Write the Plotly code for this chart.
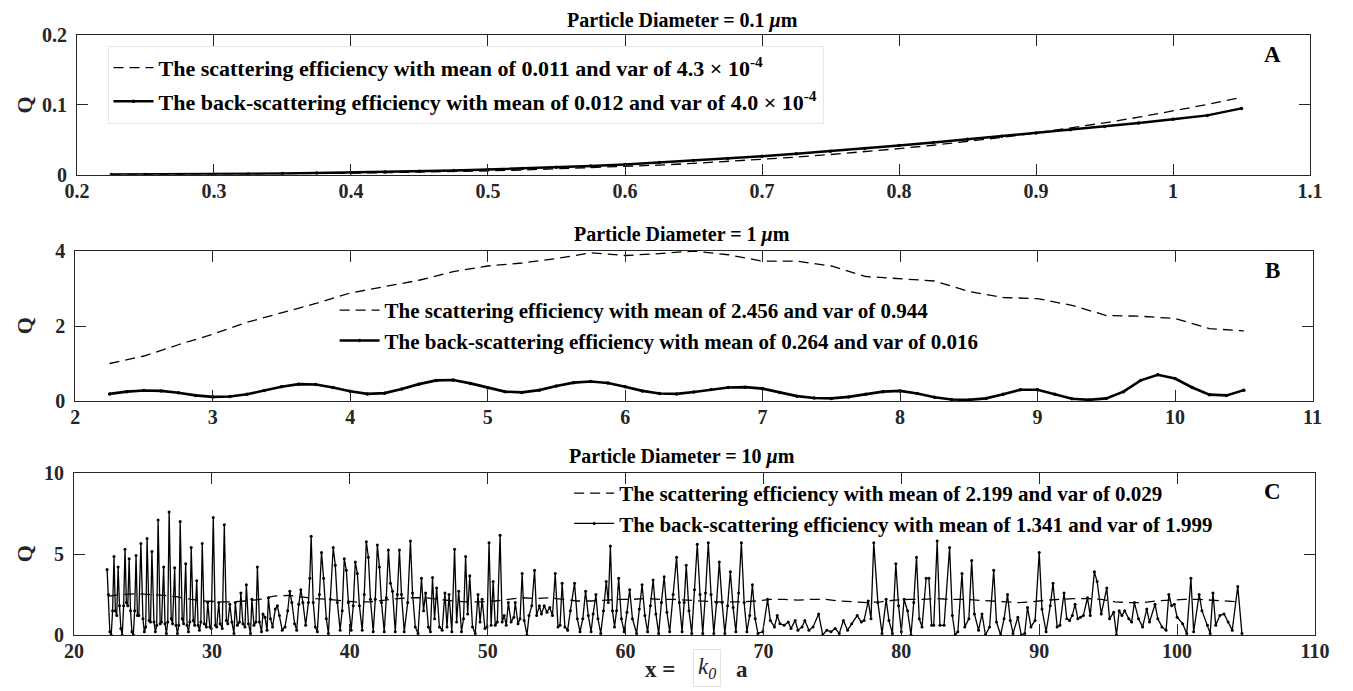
import numpy as np
import plotly.graph_objects as go
from plotly.subplots import make_subplots

# ---------------- Panel A (0.1 um) ----------------
a_x = [0.225, 0.25, 0.275, 0.3, 0.325, 0.35, 0.375, 0.4, 0.425, 0.45, 0.475, 0.5, 0.525, 0.55,
       0.575, 0.6, 0.625, 0.65, 0.675, 0.7, 0.725, 0.75, 0.775, 0.8, 0.825, 0.85, 0.875, 0.9,
       0.925, 0.95, 0.975, 1.0, 1.025, 1.05]
a_sca = [0.0002, 0.0004, 0.0005, 0.0007, 0.001, 0.0014, 0.0018, 0.0023, 0.003, 0.0037, 0.0046,
         0.0057, 0.0069, 0.0084, 0.010, 0.0118, 0.0139, 0.0163, 0.019, 0.022, 0.0253, 0.029,
         0.033, 0.0375, 0.0423, 0.0477, 0.0535, 0.0599, 0.0668, 0.0743, 0.0824, 0.0913, 0.1005, 0.111]
a_back = [0.0003, 0.0004, 0.0006, 0.0009, 0.0013, 0.0018, 0.0024, 0.0031, 0.004, 0.005, 0.0062,
          0.0075, 0.009, 0.0107, 0.0126, 0.0147, 0.0175, 0.0203, 0.0233, 0.0265, 0.030, 0.0337,
          0.0376, 0.0418, 0.0462, 0.0507, 0.0553, 0.0598, 0.0643, 0.0690, 0.0740, 0.0795, 0.0850,
          0.095]

# ---------------- Panel B (1 um) ----------------
b_x_sca = [2.25, 2.5, 2.75, 3.0, 3.25, 3.5, 3.75, 4.0, 4.25, 4.5, 4.75, 5.0, 5.25, 5.5, 5.75,
           6.0, 6.25, 6.5, 6.75, 7.0, 7.25, 7.5, 7.75, 8.0, 8.25, 8.5, 8.75, 9.0, 9.25, 9.5,
           9.75, 10.0, 10.25, 10.5]
b_sca = [1.0, 1.2, 1.5, 1.78, 2.1, 2.35, 2.6, 2.88, 3.05, 3.22, 3.45, 3.6, 3.68, 3.8, 3.95,
         3.88, 3.93, 4.0, 3.9, 3.73, 3.73, 3.6, 3.32, 3.27, 3.2, 2.92, 2.76, 2.73, 2.55, 2.28,
         2.26, 2.2, 1.93, 1.87]
b_x_back = [2.25, 2.375, 2.5, 2.625, 2.75, 2.875, 3.0, 3.125, 3.25, 3.375, 3.5, 3.625, 3.75,
            3.875, 4.0, 4.125, 4.25, 4.375, 4.5, 4.625, 4.75, 4.875, 5.0, 5.125, 5.25, 5.375,
            5.5, 5.625, 5.75, 5.875, 6.0, 6.125, 6.25, 6.375, 6.5, 6.625, 6.75, 6.875, 7.0,
            7.125, 7.25, 7.375, 7.5, 7.625, 7.75, 7.875, 8.0, 8.125, 8.25, 8.375, 8.5, 8.625,
            8.75, 8.875, 9.0, 9.125, 9.25, 9.375, 9.5, 9.625, 9.75, 9.875, 10.0, 10.125, 10.25,
            10.375, 10.5]
b_back = [0.19, 0.25, 0.28, 0.27, 0.22, 0.15, 0.11, 0.12, 0.18, 0.28, 0.38, 0.45, 0.44, 0.36,
          0.26, 0.19, 0.21, 0.32, 0.45, 0.55, 0.56, 0.47, 0.35, 0.25, 0.23, 0.29, 0.40, 0.49,
          0.52, 0.48, 0.38, 0.27, 0.20, 0.19, 0.24, 0.31, 0.36, 0.37, 0.33, 0.23, 0.13, 0.08,
          0.07, 0.11, 0.18, 0.25, 0.27, 0.20, 0.10, 0.04, 0.03, 0.07, 0.18, 0.30, 0.30, 0.18,
          0.06, 0.03, 0.07, 0.25, 0.55, 0.70, 0.60, 0.36, 0.17, 0.15, 0.29]

# ---------------- Panel C (10 um) ----------------
c_x_sca = [22.5, 23.5, 24.5, 25.5, 26.5, 27.5, 28.5, 29.5, 30.5, 31.5, 32.5, 33.5, 34.5, 35.5,
           36.5, 37.5, 38.5, 39.5, 40.5, 41.5, 42.5, 43.5, 44.5, 45.5, 46.5, 47.5, 48.5, 49.5,
           50.5, 51.5, 52.5, 53.5, 54.5, 55.5, 56.5, 57.5, 58.5, 59.5, 60.5, 61.5, 62.5, 63.5,
           64.5, 65.5, 66.5, 67.5, 68.5, 69.5, 70.5, 71.5, 72.5, 73.5, 74.5, 75.5, 76.5, 77.5,
           78.5, 79.5, 80.5, 81.5, 82.5, 83.5, 84.5, 85.5, 86.5, 87.5, 88.5, 89.5, 90.5, 91.5,
           92.5, 93.5, 94.5, 95.5, 96.5, 97.5, 98.5, 99.5, 100.5, 101.5, 102.5, 103.5, 104.5]
c_sca = [2.4, 2.5, 2.55, 2.5, 2.45, 2.35, 2.2, 2.1, 2.05, 2.05, 2.1, 2.2, 2.4, 2.45, 2.35, 2.25,
         2.2, 2.1, 2.03, 2.05, 2.15, 2.25, 2.3, 2.3, 2.2, 2.1, 2.05, 2.05, 2.1, 2.2, 2.3, 2.25,
         2.3, 2.2, 2.1, 2.1, 2.15, 2.2, 2.2, 2.25, 2.2, 2.2, 2.15, 2.1, 2.05, 2.05, 2.05, 2.1,
         2.2, 2.2, 2.15, 2.2, 2.2, 2.1, 2.05, 2.0, 2.05, 2.15, 2.2, 2.2, 2.25, 2.2, 2.2, 2.15,
         2.1, 2.05, 2.0, 2.05, 2.15, 2.2, 2.25, 2.25, 2.2, 2.05, 2.0, 2.0, 2.1, 2.15, 2.2, 2.2,
         2.15, 2.1, 2.05]

c_back_pts = [
    (22.4, 4.05), (22.5, 2.5), (22.6, 0.2), (22.7, 0.0), (22.8, 1.5), (22.9, 4.85), (23.0, 1.5),
    (23.1, 1.2), (23.2, 4.2), (23.3, 1.8), (23.4, 0.4), (23.5, 0.0), (23.6, 1.8), (23.7, 5.3),
    (23.8, 2.0), (23.9, 1.8), (24.0, 4.7), (24.1, 1.5), (24.2, 0.2), (24.3, 0.0), (24.4, 1.5),
    (24.5, 4.9), (24.6, 1.2), (24.7, 1.2), (24.85, 5.65), (25.0, 1.0), (25.1, 0.2), (25.2, 0.5),
    (25.3, 5.95), (25.45, 0.9), (25.55, 0.8), (25.65, 5.15), (25.8, 0.8), (25.9, 0.2), (26.0, 0.6),
    (26.1, 7.1), (26.25, 0.7), (26.35, 0.8), (26.5, 4.2), (26.6, 0.7), (26.7, 0.1), (26.8, 0.8),
    (26.9, 7.6), (27.05, 1.0), (27.15, 0.7), (27.3, 4.15), (27.4, 0.6), (27.5, 0.1), (27.6, 0.6),
    (27.7, 7.0), (27.85, 1.0), (27.95, 0.7), (28.1, 4.4), (28.2, 0.6), (28.3, 0.2), (28.4, 0.8),
    (28.5, 5.4), (28.65, 0.9), (28.75, 0.6), (28.9, 3.35), (29.0, 0.6), (29.1, 0.3), (29.2, 0.8),
    (29.3, 5.65), (29.45, 0.7), (29.6, 0.5), (29.7, 2.0), (29.85, 0.5), (29.95, 0.4), (30.1, 7.25),
    (30.25, 0.6), (30.35, 0.5), (30.5, 2.0), (30.6, 0.7), (30.75, 0.4), (30.9, 6.8), (31.05, 0.9),
    (31.15, 0.7), (31.3, 1.9), (31.45, 0.8), (31.6, 0.1), (31.7, 2.0), (31.85, 0.6), (32.0, 0.8),
    (32.1, 2.6), (32.25, 0.7), (32.4, 0.5), (32.5, 3.1), (32.65, 0.7), (32.8, 0.1), (32.9, 2.2),
    (33.05, 0.6), (33.2, 0.8), (33.3, 4.2), (33.45, 0.8), (33.6, 0.2), (33.7, 1.3), (33.85, 1.1),
    (34.0, 0.3), (34.1, 2.3), (34.25, 1.0), (34.4, 0.5), (34.6, 1.6), (34.75, 1.8), (34.9, 1.2),
    (35.1, 0.3), (35.3, 0.5), (35.5, 1.5), (35.65, 2.7), (35.8, 2.0), (36.0, 0.7), (36.15, 0.3),
    (36.3, 1.9), (36.45, 2.8), (36.6, 2.0), (36.8, 0.6), (37.0, 2.0), (37.1, 3.5), (37.2, 6.1),
    (37.35, 2.0), (37.5, 0.5), (37.65, 0.2), (37.8, 2.5), (37.95, 5.1), (38.1, 3.5), (38.3, 1.0),
    (38.45, 0.1), (38.6, 2.2), (38.8, 5.4), (38.95, 4.3), (39.1, 2.0), (39.3, 0.3), (39.45, 1.5),
    (39.6, 4.7), (39.75, 4.0), (39.9, 2.0), (40.1, 0.3), (40.25, 1.8), (40.4, 4.5), (40.55, 3.8),
    (40.7, 1.8), (40.9, 0.3), (41.05, 2.5), (41.2, 5.75), (41.35, 4.8), (41.5, 2.2), (41.7, 0.2),
    (41.85, 2.2), (42.0, 5.55), (42.15, 4.2), (42.3, 2.0), (42.5, 0.2), (42.65, 2.3), (42.8, 5.25),
    (42.95, 3.2), (43.1, 2.7), (43.3, 0.2), (43.45, 2.5), (43.6, 5.25), (43.75, 2.5), (43.95, 0.2),
    (44.2, 2.0), (44.4, 5.8), (44.55, 2.6), (44.75, 0.5), (44.95, 0.1), (45.2, 3.5), (45.35, 1.5),
    (45.5, 2.6), (45.7, 0.5), (45.85, 0.2), (46.0, 3.55), (46.15, 1.0), (46.3, 2.9), (46.5, 0.5),
    (46.7, 0.3), (46.9, 2.6), (47.05, 0.5), (47.2, 2.5), (47.4, 0.2), (47.6, 5.3), (47.75, 0.8),
    (47.9, 2.7), (48.1, 0.2), (48.25, 1.0), (48.4, 4.85), (48.55, 1.3), (48.7, 3.65), (48.9, 0.5),
    (49.1, 0.1), (49.3, 2.5), (49.45, 0.8), (49.6, 2.2), (49.8, 0.4), (49.95, 0.5), (50.1, 5.7),
    (50.25, 0.6), (50.4, 3.3), (50.55, 0.6), (50.7, 0.8), (50.9, 6.15), (51.05, 0.8), (51.2, 1.2),
    (51.35, 0.6), (51.5, 2.0), (51.7, 0.8), (51.9, 1.1), (52.0, 2.0), (52.2, 0.7), (52.35, 1.0),
    (52.5, 3.8), (52.65, 0.9), (52.85, 0.0), (53.0, 1.2), (53.2, 1.8), (53.4, 4.0), (53.55, 1.2),
    (53.75, 1.8), (53.9, 1.3), (54.1, 1.8), (54.3, 1.4), (54.5, 1.7), (54.7, 1.2), (54.9, 3.8),
    (55.1, 0.5), (55.25, 0.6), (55.4, 3.2), (55.6, 0.5), (55.8, 0.3), (56.0, 1.5), (56.3, 3.2),
    (56.5, 1.0), (56.7, 0.2), (56.9, 1.0), (57.1, 2.7), (57.3, 1.2), (57.5, 0.2), (57.65, 1.3),
    (57.85, 2.5), (58.0, 1.0), (58.2, 0.1), (58.4, 1.5), (58.6, 3.3), (58.75, 2.0), (58.9, 5.5),
    (59.05, 1.5), (59.2, 0.5), (59.35, 1.5), (59.5, 3.5), (59.7, 1.0), (59.9, 0.2), (60.1, 1.4),
    (60.3, 2.8), (60.5, 1.0), (60.8, 0.1), (61.0, 1.6), (61.2, 3.1), (61.4, 1.2), (61.6, 0.2),
    (61.8, 1.8), (62.0, 3.4), (62.2, 1.3), (62.4, 0.1), (62.6, 2.0), (62.8, 3.6), (63.0, 1.4),
    (63.2, 0.2), (63.45, 2.5), (63.7, 4.8), (63.9, 2.0), (64.1, 0.2), (64.25, 2.0), (64.4, 4.3),
    (64.6, 1.5), (64.8, 0.1), (65.0, 2.8), (65.2, 5.6), (65.4, 2.5), (65.6, 0.1), (65.8, 2.6),
    (66.0, 5.7), (66.2, 2.5), (66.4, 0.1), (66.6, 2.0), (66.8, 4.5), (67.0, 2.0), (67.2, 0.1),
    (67.4, 1.8), (67.6, 3.9), (67.8, 1.7), (68.0, 0.2), (68.2, 2.6), (68.4, 5.7), (68.6, 2.0),
    (68.8, 0.2), (69.0, 1.2), (69.2, 3.1), (69.4, 1.0), (69.6, 0.1), (69.95, 0.2), (70.3, 2.2),
    (70.5, 0.9), (70.8, 0.5), (71.0, 1.2), (71.2, 0.7), (71.5, 0.6), (71.8, 0.8), (72.0, 0.4),
    (72.3, 0.9), (72.5, 0.3), (72.8, 0.5), (73.0, 0.9), (73.3, 0.3), (73.6, 0.5), (74.0, 1.3),
    (74.3, 0.0), (74.6, 0.3), (74.9, 0.2), (75.2, 0.4), (75.5, 0.1), (75.8, 0.9), (76.1, 0.3),
    (76.4, 0.7), (76.8, 1.2), (77.1, 0.8), (77.3, 0.9), (77.6, 2.1), (77.8, 1.0), (78.0, 5.7),
    (78.3, 2.0), (78.6, 0.1), (78.9, 2.2), (79.1, 0.9), (79.35, 0.1), (79.6, 4.4), (79.8, 1.8),
    (80.0, 0.2), (80.2, 2.2), (80.45, 1.5), (80.7, 0.0), (80.9, 2.0), (81.1, 4.8), (81.3, 1.0),
    (81.5, 0.5), (81.8, 3.5), (82.0, 3.5), (82.2, 0.6), (82.35, 0.6), (82.6, 5.8), (82.8, 0.6),
    (83.1, 0.6), (83.5, 5.4), (83.7, 1.2), (83.9, 0.0), (84.1, 0.2), (84.4, 3.8), (84.6, 0.5),
    (84.9, 1.0), (85.1, 4.6), (85.3, 1.3), (85.6, 0.3), (85.85, 1.3), (86.1, 0.0), (86.4, 0.5),
    (86.7, 4.0), (86.9, 0.8), (87.2, 0.0), (87.45, 1.0), (87.7, 2.5), (87.9, 0.9), (88.1, 0.1),
    (88.45, 1.1), (88.7, 0.0), (88.95, 0.1), (89.15, 1.7), (89.4, 0.5), (89.7, 0.9), (90.0, 5.1),
    (90.2, 1.6), (90.5, 0.2), (90.8, 1.8), (91.0, 3.2), (91.3, 0.5), (91.5, 0.6), (91.8, 2.6),
    (92.0, 1.0), (92.2, 0.9), (92.4, 1.2), (92.6, 1.9), (92.8, 1.0), (93.0, 1.1), (93.2, 1.2),
    (93.5, 2.3), (93.7, 1.2), (94.0, 3.9), (94.2, 3.3), (94.5, 1.3), (94.9, 2.9), (95.1, 1.0),
    (95.4, 1.4), (95.6, 0.0), (95.8, 1.5), (96.0, 1.2), (96.2, 1.5), (96.5, 1.0), (96.7, 0.8),
    (96.9, 2.0), (97.2, 1.0), (97.5, 0.5), (97.8, 1.6), (98.0, 0.8), (98.4, 1.9), (98.6, 1.0),
    (98.9, 0.5), (99.2, 0.3), (99.4, 2.5), (99.6, 1.8), (99.8, 1.9), (100.0, 1.1), (100.4, 0.7),
    (100.7, 0.1), (101.0, 3.5), (101.2, 0.2), (101.6, 2.5), (101.8, 1.5), (102.2, 0.6),
    (102.4, 0.1), (102.6, 2.6), (102.8, 0.6), (103.1, 1.2), (103.4, 1.3), (103.7, 0.8),
    (104.0, 0.3), (104.4, 3.0), (104.7, 0.1)]
c_x_back = [p[0] for p in c_back_pts]
c_back = [p[1] for p in c_back_pts]

legend_a = ["The scattering efficiency with mean of 0.011 and var of 4.3 \u00d7 10<sup>-4</sup>",
            "The back-scattering efficiency with mean of 0.012 and var of 4.0 \u00d7 10<sup>-4</sup>"]
legend_b = ["The scattering efficiency with mean of 2.456 and var of 0.944",
            "The back-scattering efficiency with mean of 0.264 and var of 0.016"]
legend_c = ["The scattering efficiency with mean of 2.199 and var of 0.029",
            "The back-scattering efficiency with mean of 1.341 and var of 1.999"]

FONT = "Liberation Serif"
INK = "#262626"

fig = make_subplots(rows=3, cols=1)

def add_pair(row, xs, ys, xb, yb, names, leg, lw_b, ms_b):
    fig.add_trace(go.Scatter(x=xs, y=ys, mode="lines", name=names[0], legend=leg,
                             legendgroup=leg + "s",
                             line=dict(color="black", width=1.3, dash="10px,6px")), row=row, col=1)
    fig.add_trace(go.Scatter(x=xb, y=yb, mode="lines+markers", name=names[1], legend=leg,
                             legendgroup=leg + "b",
                             line=dict(color="black", width=lw_b),
                             marker=dict(color="black", size=ms_b, symbol="circle")), row=row, col=1)

add_pair(1, a_x, a_sca, a_x, a_back, legend_a, "legend", 2.5, 3.5)
add_pair(2, b_x_sca, b_sca, b_x_back, b_back, legend_b, "legend2", 2.6, 3.5)
add_pair(3, c_x_sca, c_sca, c_x_back, c_back, legend_c, "legend3", 1.3, 3)

tickfont = dict(family=FONT, size=20, color=INK, weight="bold")
axis_common = dict(showline=True, linecolor=INK, linewidth=1, mirror="ticks", ticks="inside",
                   ticklen=11, tickcolor=INK, tickfont=tickfont, showgrid=False, zeroline=False)

fig.update_xaxes(**axis_common, ticklabelstandoff=-2)
fig.update_yaxes(**axis_common, ticklabelstandoff=5)

fig.update_layout(
    xaxis=dict(range=[0.2, 1.1], dtick=0.1, tick0=0.2, domain=[0.0024, 0.996]),
    yaxis=dict(range=[0, 0.2], dtick=0.1, domain=[0.767, 1.0]),
    xaxis2=dict(range=[2, 11], dtick=1, domain=[0.001, 0.998]),
    yaxis2=dict(range=[0, 4], dtick=2, domain=[0.39, 0.64]),
    xaxis3=dict(range=[20, 110], dtick=10, domain=[0.0, 1.0]),
    yaxis3=dict(range=[0, 10], dtick=5, domain=[0.0, 0.27]),
)

legfont = dict(family=FONT, size=21, color="black", weight="bold")
legfont_a = dict(family=FONT, size=22, color="black", weight="bold")
fig.update_layout(
    legend=dict(x=0.027, y=0.982, xanchor="left", yanchor="top", font=legfont_a,
                bgcolor="white", bordercolor="#e6e6e6", borderwidth=1, tracegroupgap=2,
                itemwidth=40),
    legend2=dict(x=0.21, y=0.575, xanchor="left", yanchor="top", font=legfont,
                 bgcolor="rgba(0,0,0,0)", borderwidth=0, tracegroupgap=0, itemwidth=40),
    legend3=dict(x=0.399, y=0.27, xanchor="left", yanchor="top", font=legfont,
                 bgcolor="rgba(0,0,0,0)", borderwidth=0, tracegroupgap=0, itemwidth=40),
)

titlefont = dict(family=FONT, size=20, color="black", weight="bold")
annots = []
for txt, y in [("Particle Diameter = 0.1 <i>\u03bc</i>m", 1.025),
               ("Particle Diameter = 1 <i>\u03bc</i>m", 0.667),
               ("Particle Diameter = 10 <i>\u03bc</i>m", 0.297)]:
    annots.append(dict(text=txt, x=0.49, y=y, xref="paper", yref="paper", showarrow=False,
                       xanchor="center", yanchor="middle", font=titlefont))
for txt, y in [("A", 0.967), ("B", 0.607), ("C", 0.24)]:
    annots.append(dict(text=txt, x=0.966, y=y, xref="paper", yref="paper", showarrow=False,
                       xanchor="center", yanchor="middle",
                       font=dict(family=FONT, size=23, color="black", weight="bold")))
for y in [0.883, 0.515, 0.135]:
    annots.append(dict(text="Q", x=-0.040, y=y, xref="paper", yref="paper", showarrow=False,
                       textangle=-90, xanchor="center", yanchor="middle",
                       font=dict(family=FONT, size=22, color=INK, weight="bold")))
xt_font = dict(family=FONT, size=23, color=INK, weight="bold")
annots.append(dict(text="x =", x=0.472, y=-0.058, xref="paper", yref="paper", showarrow=False,
                   xanchor="center", yanchor="middle", font=xt_font))
annots.append(dict(text="<i>k<sub>0</sub></i>", x=0.510, y=-0.055, xref="paper", yref="paper",
                   showarrow=False, xanchor="center", yanchor="middle",
                   font=dict(family=FONT, size=23, color=INK), bordercolor="#e3e3e3",
                   borderwidth=1, borderpad=4))
annots.append(dict(text="a", x=0.538, y=-0.058, xref="paper", yref="paper", showarrow=False,
                   xanchor="center", yanchor="middle", font=xt_font))

fig.update_layout(
    annotations=annots,
    width=1353, height=691,
    margin=dict(l=66, r=46, t=27, b=64),
    paper_bgcolor="white", plot_bgcolor="white",
    font=dict(family=FONT, color="black"),
)

fig.write_html("out.html")
